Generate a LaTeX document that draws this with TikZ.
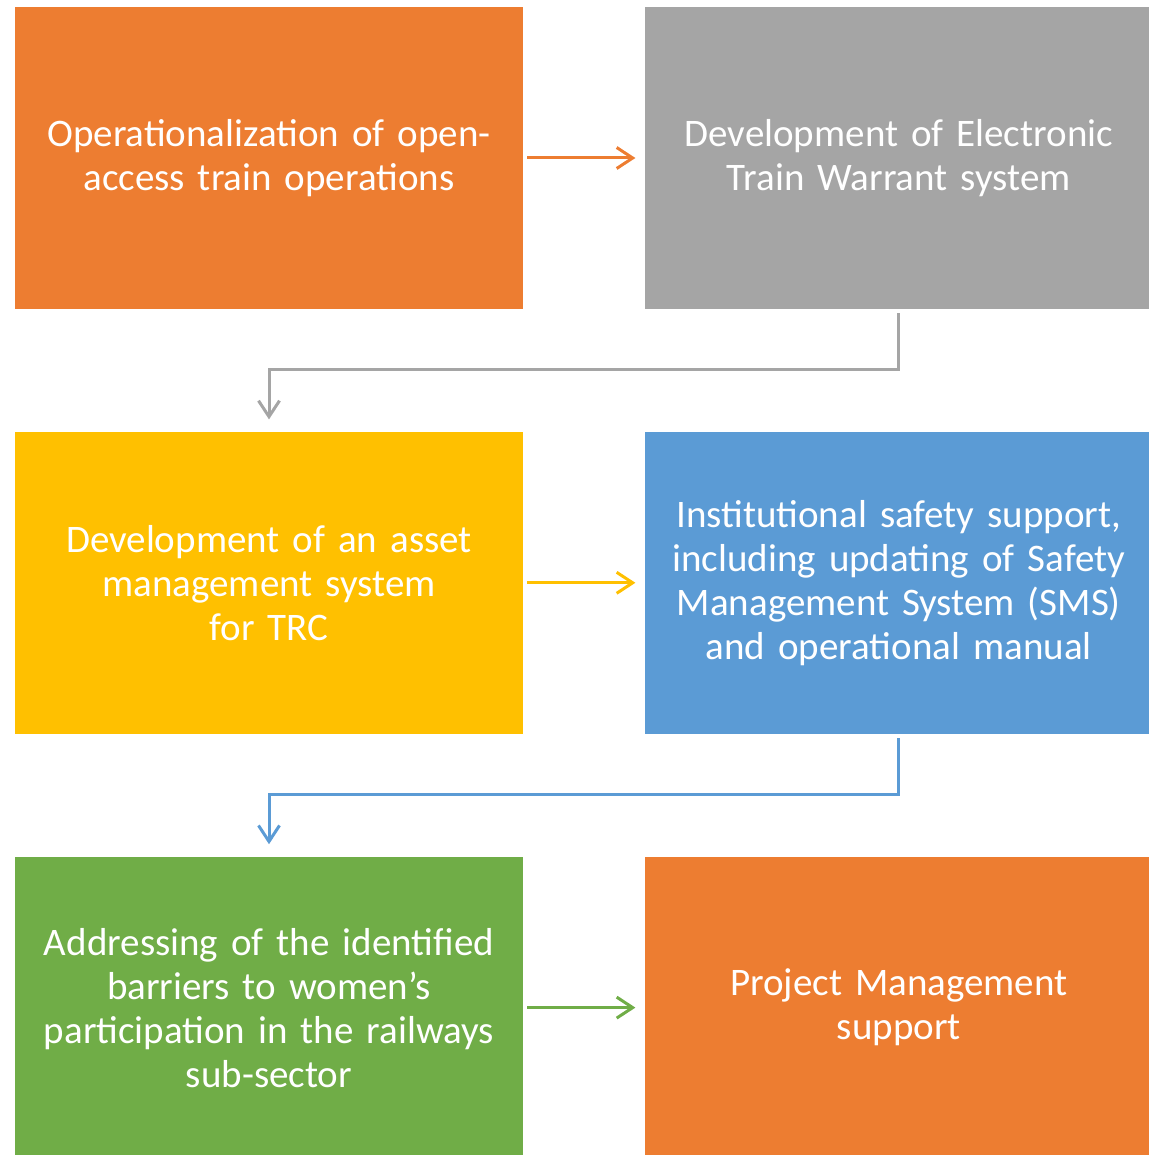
\documentclass[tikz,border=0pt]{standalone}
\usepackage{fontspec}
\setmainfont{Carlito}
\usetikzlibrary{positioning,arrows.meta}

\definecolor{stepOrange}{HTML}{ED7D31}
\definecolor{stepGray}{HTML}{A5A5A5}
\definecolor{stepYellow}{HTML}{FFC000}
\definecolor{stepBlue}{HTML}{5B9BD5}
\definecolor{stepGreen}{HTML}{70AD47}

\tikzset{
  stepbox/.style={rectangle, inner sep=0pt, minimum width=254pt, minimum height=151pt,
    text width=244pt, align=center, text=white,
    font=\fontsize{19.5pt}{22pt}\selectfont},
  flow/.style={line width=1.5pt, -{Straight Barb[length=8pt,width=10.5pt,line width=1.5pt]}},
}

\begin{document}
\begin{tikzpicture}[node distance=61pt and 60.5pt]
  \useasboundingbox (0,0) rectangle (574pt,-577.5pt);
  \node[stepbox, fill=stepOrange] (ops) at (134.5pt,-79pt) {Operationalization of open-\\access train operations};
  \node[stepbox, fill=stepGray, right=of ops] (etw) {Development of Electronic\\Train Warrant system};
  \node[stepbox, fill=stepYellow, below=of ops] (asset) {Development of an asset\\management system\\for TRC};
  \node[stepbox, fill=stepBlue, right=of asset] (safety) {Institutional safety support,\\including updating of Safety\\Management System (SMS)\\and operational manual};
  \node[stepbox, fill=stepGreen, below=of asset] (women) {Addressing of the identified\\barriers to women’s\\participation in the railways\\sub-sector};
  \node[stepbox, fill=stepOrange, right=of women] (pm) {Project Management\\support};

  % connectors
  \draw[flow, stepOrange, shorten <=2pt, shorten >=4.5pt] (ops) -- (etw);
  \draw[flow, stepGray, shorten <=2pt, shorten >=6pt] (etw.south) -- ++(0,-30pt) -| (asset.north);
  \draw[flow, stepYellow, shorten <=2pt, shorten >=4.5pt] (asset) -- (safety);
  \draw[flow, stepBlue, shorten <=2pt, shorten >=6pt] (safety.south) -- ++(0,-30pt) -| (women.north);
  \draw[flow, stepGreen, shorten <=2pt, shorten >=4.5pt] (women) -- (pm);
\end{tikzpicture}
\end{document}
